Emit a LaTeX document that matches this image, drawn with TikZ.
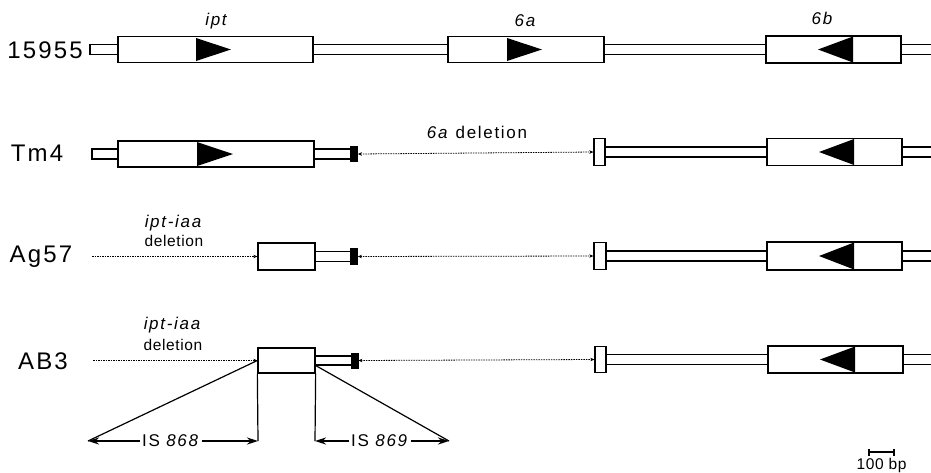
\documentclass[tikz,border=0pt]{standalone}
\usepackage{fontspec}
\setmainfont{Liberation Sans}
\usetikzlibrary{arrows.meta}
\tikzset{
  gbox/.style={draw, line width=1.3pt, fill=white, inner sep=0pt},
  blk/.style={draw, fill=black, line width=0.8pt, inner sep=0pt, minimum width=7pt, minimum height=15pt},
  bar/.style={line width=1.3pt},
  del/.style={line width=0.8pt, dash pattern=on 1.6pt off 0.9pt},
  delarr/.style={del, -{Stealth[length=4pt,width=3.5pt]}},
  deldbl/.style={del, {Stealth[length=4pt,width=3.5pt]}-{Stealth[length=4pt,width=3.5pt]}},
  isarr/.style={line width=1.7pt, -{Stealth[length=11pt,width=7pt]}},
  strain/.style={font=\fontsize{24}{28}\selectfont\addfontfeature{LetterSpace=9}, inner sep=0pt},
  glabel/.style={font=\fontsize{17}{20}\selectfont\itshape\addfontfeature{LetterSpace=10}, inner sep=0pt},
  dlabel/.style={font=\fontsize{17}{20}\selectfont\addfontfeature{LetterSpace=10}, inner sep=0pt},
  slabel/.style={font=\fontsize{15.5}{18}\selectfont\addfontfeature{LetterSpace=4}, inner sep=0pt},
  tri/.style={fill=black}
}
\begin{document}
\begin{tikzpicture}[x=1pt,y=-1pt]
\useasboundingbox (0,0) rectangle (931,472);

% ---------------- Row 1: 15955
\node[strain] (l1) at (45,50) {15955};
\node[gbox, minimum width=28pt, minimum height=10pt] (s1) at (104,49.5) {};
\node[gbox, minimum width=195pt, minimum height=26pt] (ipt1) at (215.5,49.5) {};
\fill[tri] (196,38) -- (231,49.5) -- (196,61) -- cycle;
\node[gbox, minimum width=156pt, minimum height=26pt] (a61) at (526,49.5) {};
\fill[tri] (507,38) -- (542,49.5) -- (507,61) -- cycle;
\node[gbox, minimum width=135pt, minimum height=27pt] (b61) at (833.5,49.5) {};
\fill[tri] (818,49.5) -- (853,36.5) -- (853,62.5) -- cycle;
\draw[bar] ([yshift=5pt]ipt1.east) -- ([yshift=5pt]a61.west);
\draw[bar] ([yshift=-5pt]ipt1.east) -- ([yshift=-5pt]a61.west);
\draw[bar] ([yshift=5pt]a61.east) -- ([yshift=5pt]b61.west);
\draw[bar] ([yshift=-5pt]a61.east) -- ([yshift=-5pt]b61.west);
\coordinate (e1) at (931,49.5);
\draw[bar] ([yshift=5pt]b61.east) -- ([yshift=5pt]e1);
\draw[bar] ([yshift=-5pt]b61.east) -- ([yshift=-5pt]e1);
\node[glabel] (t1) at (216,21) {ipt};
\node[glabel] (t2) at (525,21) {6a};
\node[glabel] (t3) at (822,18) {6b};

% ---------------- Row 2: Tm4
\node[strain] (l2) at (37,153) {Tm4};
\node[gbox, minimum width=26pt, minimum height=10pt] (s2) at (105,154) {};
\node[gbox, minimum width=196pt, minimum height=26pt] (ipt2) at (216,154) {};
\fill[tri] (197,142) -- (233,154) -- (197,166) -- cycle;
\node[blk] (k2) at (354,154) {};
\draw[bar] ([yshift=5pt]ipt2.east) -- ([yshift=5pt]k2.west);
\draw[bar] ([yshift=-5pt]ipt2.east) -- ([yshift=-5pt]k2.west);
\node[gbox, minimum width=11pt, minimum height=27pt] (m2) at (599.5,152) {};
\draw[deldbl] (k2.east) -- (m2.west);
\node[gbox, minimum width=135pt, minimum height=27pt] (b62) at (834.5,152) {};
\fill[tri] (819,152) -- (854,139) -- (854,165) -- cycle;
\draw[bar] ([yshift=5pt]m2.east) -- ([yshift=5pt]b62.west);
\draw[bar] ([yshift=-5pt]m2.east) -- ([yshift=-5pt]b62.west);
\coordinate (e2) at (931,152);
\draw[bar] ([yshift=5pt]b62.east) -- ([yshift=5pt]e2);
\draw[bar] ([yshift=-5pt]b62.east) -- ([yshift=-5pt]e2);
\node[dlabel] (d2) at (477,132) {\textit{6a} deletion};

% ---------------- Row 3: Ag57
\node[strain] (l3) at (41,257) {Ag57};
\coordinate (f3) at (92,256.5);
\node[gbox, minimum width=57pt, minimum height=27pt] (x3) at (286.5,256.5) {};
\draw[delarr] (f3) -- (x3.west);
\node[blk, minimum height=16pt] (k3) at (354,256.5) {};
\draw[bar] ([yshift=5pt]x3.east) -- ([yshift=5pt]k3.west);
\draw[bar] ([yshift=-5pt]x3.east) -- ([yshift=-5pt]k3.west);
\node[gbox, minimum width=12pt, minimum height=27pt] (m3) at (600,256) {};
\draw[deldbl] (k3.east) -- (m3.west);
\node[gbox, minimum width=135pt, minimum height=28pt] (b63) at (834.5,256) {};
\fill[tri] (819,256) -- (854,242.5) -- (854,269.5) -- cycle;
\draw[bar] ([yshift=5pt]m3.east) -- ([yshift=5pt]b63.west);
\draw[bar] ([yshift=-5pt]m3.east) -- ([yshift=-5pt]b63.west);
\coordinate (e3) at (931,256);
\draw[bar] ([yshift=5pt]b63.east) -- ([yshift=5pt]e3);
\draw[bar] ([yshift=-5pt]b63.east) -- ([yshift=-5pt]e3);
\node[glabel] (i3) at (173,223) {ipt-iaa};
\node[slabel] (d3) at (174,241) {deletion};

% ---------------- Row 4: AB3
\node[strain] (l4) at (43,361) {AB3};
\coordinate (f4) at (93,360.5);
\node[gbox, minimum width=57pt, minimum height=25pt] (x4) at (286.5,360.5) {};
\draw[delarr] (f4) -- (x4.west);
\node[blk] (k4) at (354.5,360.5) {};
\draw[bar] ([yshift=4.5pt]x4.east) -- ([yshift=4.5pt]k4.west);
\draw[bar] ([yshift=-4.5pt]x4.east) -- ([yshift=-4.5pt]k4.west);
\node[gbox, minimum width=11pt, minimum height=26pt] (m4) at (600.5,359.5) {};
\draw[deldbl] (k4.east) -- (m4.west);
\node[gbox, minimum width=135pt, minimum height=27pt] (b64) at (835.5,359.5) {};
\fill[tri] (820,359.5) -- (855,346.5) -- (855,372.5) -- cycle;
\draw[bar] ([yshift=5pt]m4.east) -- ([yshift=5pt]b64.west);
\draw[bar] ([yshift=-5pt]m4.east) -- ([yshift=-5pt]b64.west);
\coordinate (e4) at (931,359.5);
\draw[bar] ([yshift=5pt]b64.east) -- ([yshift=5pt]e4);
\draw[bar] ([yshift=-5pt]b64.east) -- ([yshift=-5pt]e4);
\node[glabel] (i4) at (172,325) {ipt-iaa};
\node[slabel] (d4) at (173,345) {deletion};

% IS elements
\coordinate (la) at (88,441);
\coordinate (lb) at (258,441);
\coordinate (ra) at (315,441);
\coordinate (rb) at (449,441);
\draw[line width=1.2pt] (x4.west) -- (la);
\draw[line width=1.2pt] ([yshift=-5pt]x4.east) -- (rb);
\draw[line width=1.2pt] (x4.south west) -- (lb);
\draw[line width=1.2pt] (x4.south east) -- (ra);
\node[dlabel, fill=white, inner xsep=2pt] (is1) at (171,441) {IS \textit{868}};
\node[dlabel, fill=white, inner xsep=2pt] (is2) at (380,441) {IS \textit{869}};
\draw[isarr] (is1.west) -- (la);
\draw[isarr] (is1.east) -- (lb);
\draw[isarr] (is2.west) -- (ra);
\draw[isarr] (is2.east) -- (rb);

% scale bar
\coordinate (sb1) at (868,452);
\coordinate (sb2) at (895,452);
\draw[line width=1.6pt, {Bar[width=7pt]}-{Bar[width=7pt]}] (sb1) -- (sb2);
\node[slabel] (sbl) at (881.5,465) {100 bp};
\end{tikzpicture}
\end{document}
